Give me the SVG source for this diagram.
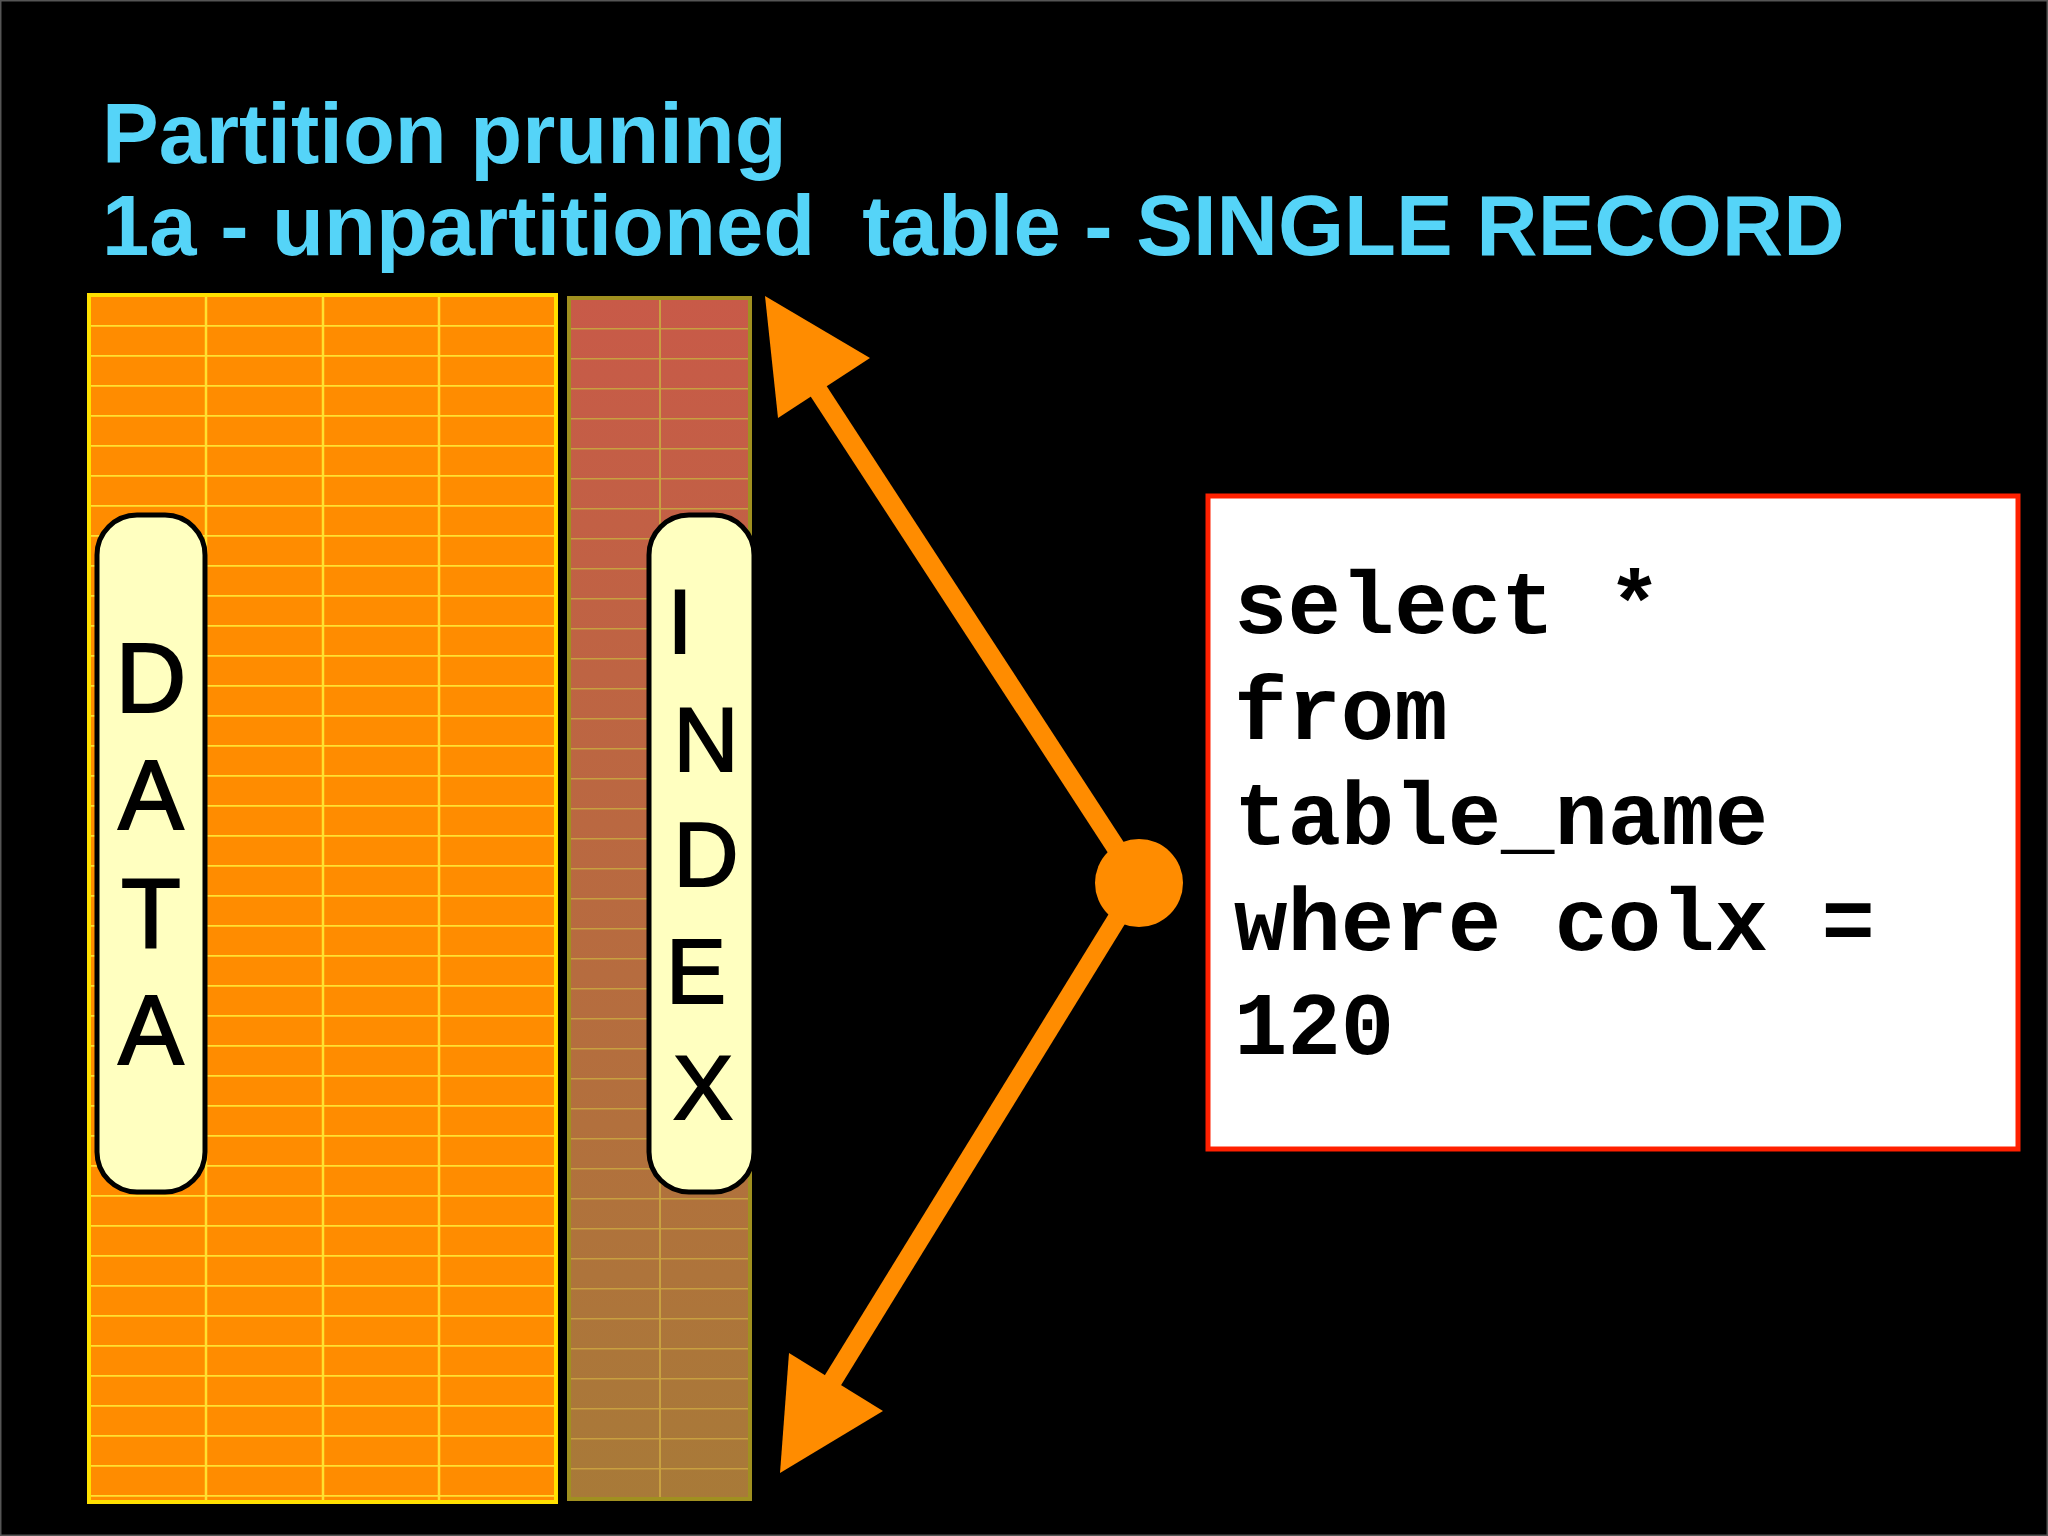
<svg xmlns="http://www.w3.org/2000/svg" width="2048" height="1536" viewBox="0 0 2048 1536">
<defs>
<linearGradient id="ig" x1="0" y1="0" x2="0" y2="1"><stop offset="0" stop-color="#C85A48"/><stop offset="1" stop-color="#A87A38"/></linearGradient>
<pattern id="dg" x="89" y="295" width="467" height="30" patternUnits="userSpaceOnUse"><line x1="0" y1="0.5" x2="467" y2="0.5" stroke="#FFE030" stroke-width="2.5"/></pattern>
<pattern id="xg" x="569" y="298" width="181" height="30" patternUnits="userSpaceOnUse"><line x1="0" y1="0.5" x2="181" y2="0.5" stroke="#C8A040" stroke-width="2"/></pattern>
</defs>
<style>
.t{font-family:"Liberation Sans",Arial,sans-serif;font-weight:bold;font-size:85px;fill:#55D4F8;white-space:pre}
.l{font-family:"Liberation Sans",Arial,sans-serif;font-size:98px;fill:#000;text-anchor:middle;stroke:#000;stroke-width:2}
.c{font-family:"Liberation Mono","Courier New",monospace;font-weight:bold;font-size:89px;fill:#000}
.a{stroke:#FF8C00;stroke-width:19;fill:none}
</style>
<rect width="2048" height="1536" fill="#000" stroke="#555" stroke-width="3"/>
<text class="t" x="102" y="163">Partition pruning</text>
<text class="t" x="102" y="255" xml:space="preserve">1a - unpartitioned  table - SINGLE RECORD</text>
<g id="data">
<rect x="89" y="295" width="467" height="1207" fill="#FF8C00"/>
<rect x="89" y="295" width="467" height="1207" fill="url(#dg)"/>
<g stroke="#FFE030" stroke-width="2.5"><line x1="206" y1="295" x2="206" y2="1502"/><line x1="323" y1="295" x2="323" y2="1502"/><line x1="439" y1="295" x2="439" y2="1502"/></g>
<rect x="89" y="295" width="467" height="1207" fill="none" stroke="#FFE000" stroke-width="4"/>
</g>
<g id="index">
<rect x="569" y="298" width="181" height="1201" fill="url(#ig)"/>
<rect x="569" y="298" width="181" height="1201" fill="url(#xg)"/>
<line x1="660" y1="298" x2="660" y2="1499" stroke="#C8A040" stroke-width="2"/>
<rect x="569" y="298" width="181" height="1201" fill="none" stroke="#A09020" stroke-width="4"/>
</g>
<g id="datalabel">
<rect x="97" y="515" width="108" height="677" rx="40" fill="#FFFFC0" stroke="#000" stroke-width="5"/>
<text class="l" x="151" y="712">D</text><text class="l" x="151" y="829">A</text><text class="l" x="151" y="947">T</text><text class="l" x="151" y="1064">A</text>
</g>
<g id="indexlabel">
<rect x="649" y="515" width="105" height="677" rx="40" fill="#FFFFC0" stroke="#000" stroke-width="5"/>
<text class="l" x="680" y="653" style="font-size:90px">I</text><text class="l" x="706" y="771" style="font-size:90px">N</text><text class="l" x="706" y="886" style="font-size:90px">D</text><text class="l" x="696" y="1003" style="font-size:90px">E</text><text class="l" x="703" y="1119" style="font-size:90px">X</text>
</g>
<g id="connectors">
<line class="a" x1="1139" y1="883" x2="810" y2="378"/>
<polygon points="765,296 870,358 778,418" fill="#FF8C00"/>
<line class="a" x1="1139" y1="883" x2="830" y2="1385"/>
<polygon points="780,1473 883,1411 789,1353" fill="#FF8C00"/>
<circle cx="1139" cy="883" r="44" fill="#FF8C00"/>
</g>
<g id="query">
<rect x="1208" y="496" width="810" height="653" fill="#fff" stroke="#FF2000" stroke-width="5"/>
<text class="c" x="1234" y="633">select *</text>
<text class="c" x="1234" y="739">from</text>
<text class="c" x="1234" y="844">table_name</text>
<text class="c" x="1234" y="950">where colx =</text>
<text class="c" x="1234" y="1054">120</text>
</g>
</svg>
